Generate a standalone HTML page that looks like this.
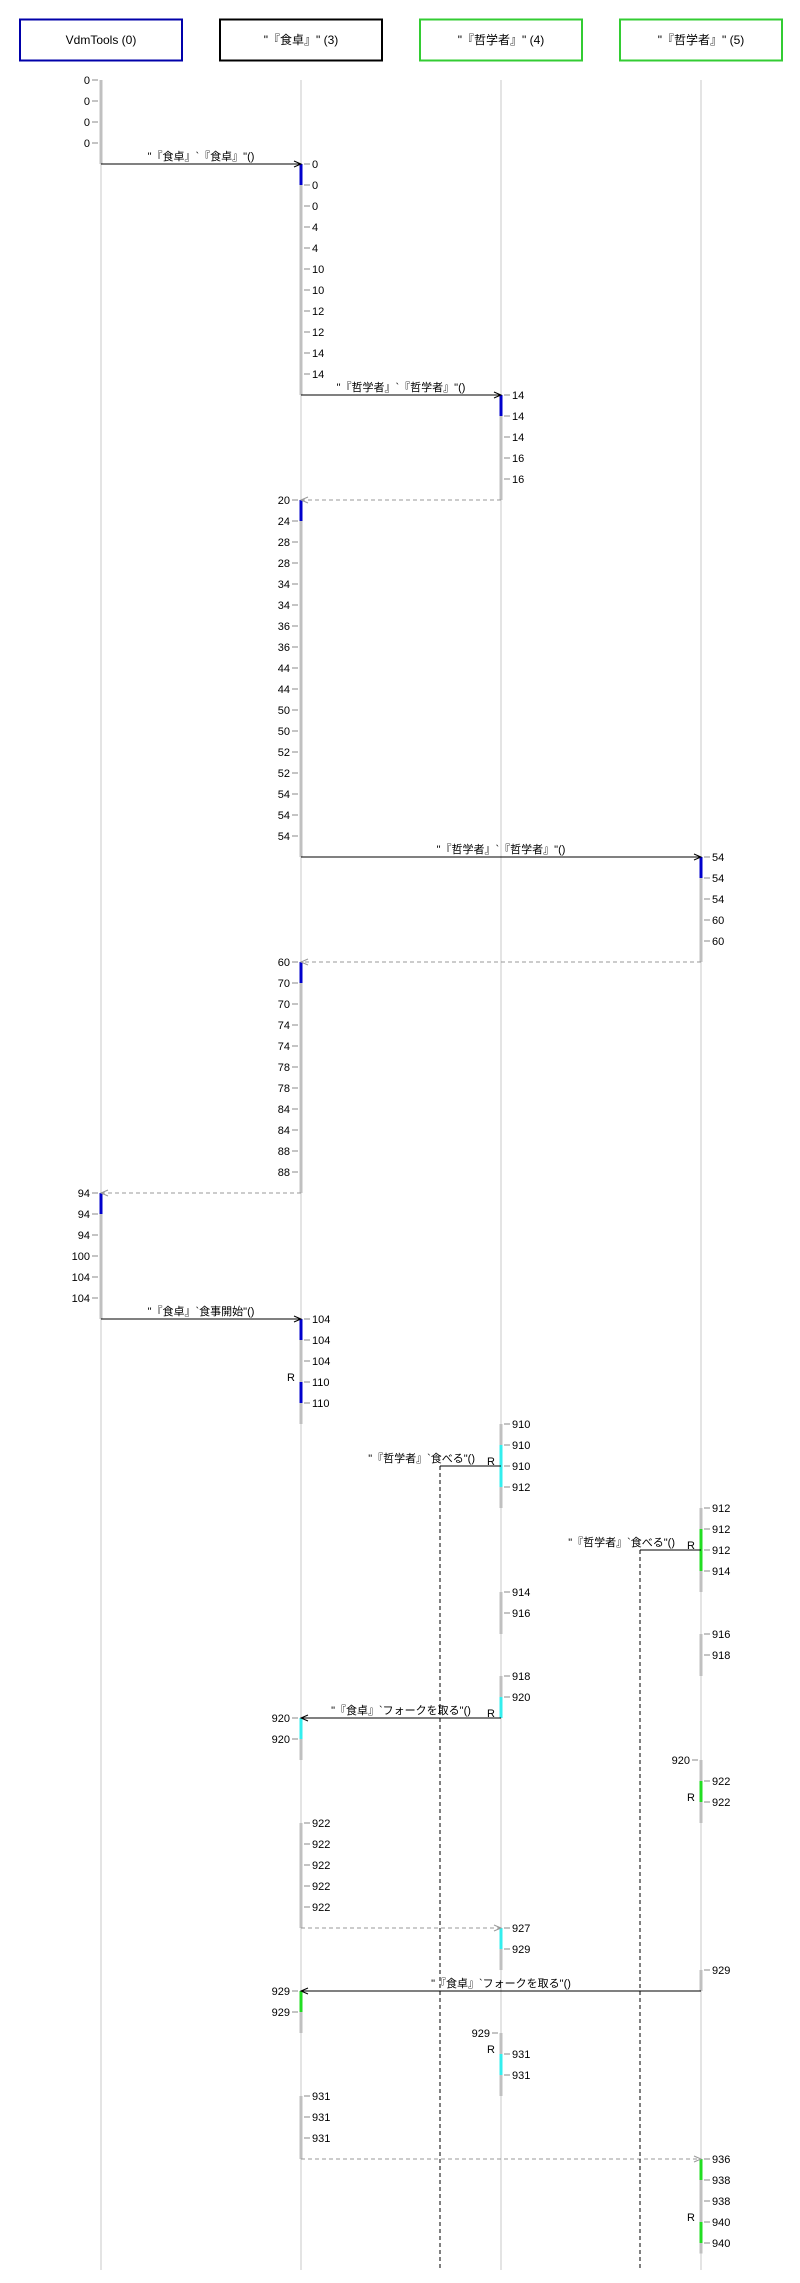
<!DOCTYPE html>
<html><head><meta charset="utf-8">
<style>
html,body{margin:0;padding:0;background:#fff;}
svg{display:block;font-family:"Liberation Sans","Noto Sans CJK JP",sans-serif;}
</style></head>
<body>
<svg id="chart" width="800" height="2283" viewBox="0 0 800 2283" xmlns="http://www.w3.org/2000/svg"></svg>
<script>
// ---- data ----
const participants = ['VdmTools (0)', '"『食卓』" (3)', '"『哲学者』" (4)', '"『哲学者』" (5)'];
const participantColors = ['#0000aa', '#000000', '#33cc33', '#33cc33'];
// ticks: [row, participant, side, label]
const ticks = [
[0,0,'L','0'],[1,0,'L','0'],[2,0,'L','0'],[3,0,'L','0'],
[4,1,'R','0'],[5,1,'R','0'],[6,1,'R','0'],[7,1,'R','4'],[8,1,'R','4'],[9,1,'R','10'],[10,1,'R','10'],[11,1,'R','12'],[12,1,'R','12'],[13,1,'R','14'],[14,1,'R','14'],
[15,2,'R','14'],[16,2,'R','14'],[17,2,'R','14'],[18,2,'R','16'],[19,2,'R','16'],
[20,1,'L','20'],[21,1,'L','24'],[22,1,'L','28'],[23,1,'L','28'],[24,1,'L','34'],[25,1,'L','34'],[26,1,'L','36'],[27,1,'L','36'],[28,1,'L','44'],[29,1,'L','44'],[30,1,'L','50'],[31,1,'L','50'],[32,1,'L','52'],[33,1,'L','52'],[34,1,'L','54'],[35,1,'L','54'],[36,1,'L','54'],
[37,3,'R','54'],[38,3,'R','54'],[39,3,'R','54'],[40,3,'R','60'],[41,3,'R','60'],
[42,1,'L','60'],[43,1,'L','70'],[44,1,'L','70'],[45,1,'L','74'],[46,1,'L','74'],[47,1,'L','78'],[48,1,'L','78'],[49,1,'L','84'],[50,1,'L','84'],[51,1,'L','88'],[52,1,'L','88'],
[53,0,'L','94'],[54,0,'L','94'],[55,0,'L','94'],[56,0,'L','100'],[57,0,'L','104'],[58,0,'L','104'],
[59,1,'R','104'],[60,1,'R','104'],[61,1,'R','104'],[62,1,'R','110'],[63,1,'R','110'],
[64,2,'R','910'],[65,2,'R','910'],[66,2,'R','910'],[67,2,'R','912'],
[68,3,'R','912'],[69,3,'R','912'],[70,3,'R','912'],[71,3,'R','914'],
[72,2,'R','914'],[73,2,'R','916'],
[74,3,'R','916'],[75,3,'R','918'],
[76,2,'R','918'],[77,2,'R','920'],
[78,1,'L','920'],[79,1,'L','920'],
[80,3,'L','920'],[81,3,'R','922'],[82,3,'R','922'],
[83,1,'R','922'],[84,1,'R','922'],[85,1,'R','922'],[86,1,'R','922'],[87,1,'R','922'],
[88,2,'R','927'],[89,2,'R','929'],
[90,3,'R','929'],
[91,1,'L','929'],[92,1,'L','929'],
[93,2,'L','929'],[94,2,'R','931'],[95,2,'R','931'],
[96,1,'R','931'],[97,1,'R','931'],[98,1,'R','931'],
[99,3,'R','936'],[100,3,'R','938'],[101,3,'R','938'],[102,3,'R','940'],[103,3,'R','940']
];
// gray activation bars: [participant, startRow, endRow]
const grayBars = [[0,0,4],[0,53,59],[1,4,15],[1,20,37],[1,42,53],[1,59,64],[1,78,80],[1,83,88],[1,91,93],[1,96,99],
[2,15,20],[2,64,68],[2,72,74],[2,76,78],[2,88,90],[2,93,96],
[3,37,42],[3,68,72],[3,74,76],[3,80,83],[3,90,91],[3,99,103.5]];
// coloured activation segments: [participant, startRow, endRow, color]
const colorBars = [[0,53,54,'#0000cc'],[1,4,5,'#0000cc'],[1,20,21,'#0000cc'],[1,42,43,'#0000cc'],[1,59,60,'#0000cc'],[1,62,63,'#0000cc'],
[2,15,16,'#0000cc'],[3,37,38,'#0000cc'],
[2,65,67,'#33eeee'],[2,77,78,'#33eeee'],[1,78,79,'#33eeee'],[2,88,89,'#33eeee'],[2,94,95,'#33eeee'],
[3,69,71,'#22dd22'],[3,81,82,'#22dd22'],[1,91,92,'#22dd22'],[3,99,100,'#22dd22'],[3,102,103,'#22dd22']];
// messages: [row, from, to, label, dashed]
const messages = [
[4,0,1,'"『食卓』`『食卓』"()',false],
[15,1,2,'"『哲学者』`『哲学者』"()',false],
[20,2,1,'',true],
[37,1,3,'"『哲学者』`『哲学者』"()',false],
[42,3,1,'',true],
[53,1,0,'',true],
[59,0,1,'"『食卓』`食事開始"()',false],
[78,2,1,'"『食卓』`フォークを取る"()',false],
[88,1,2,'',true],
[91,3,1,'"『食卓』`フォークを取る"()',false],
[99,1,3,'',true]
];
// async calls: [row, participant, label]
const asyncCalls = [[66,2,'"『哲学者』`食べる"()'],[70,3,'"『哲学者』`食べる"()']];
const rMarks = [[62,1],[66,2],[70,3],[78,2],[82,3],[94,2],[102,3]];

// ---- axes ----
const X = i => 101 + 200*i;
const Y = r => 80 + 21.0*r;
const svg = document.getElementById('chart');
const NS = 'http://www.w3.org/2000/svg';
function mk(tag, attrs, txt){const e=document.createElementNS(NS,tag);for(const k in attrs)e.setAttribute(k,attrs[k]);if(txt!==undefined)e.textContent=txt;svg.appendChild(e);return e;}

participants.forEach((p,i)=>{
  const b=mk('rect',{x:X(i)-81,y:19.5,width:162,height:41,fill:'#fff',stroke:participantColors[i],'stroke-width':2});
  
  
  const t=mk('text',{x:X(i),y:44,'font-size':12,'text-anchor':'middle',fill:'#000'},p);
  
  
  const l=mk('line',{x1:X(i),y1:80,x2:X(i),y2:2270,stroke:'#c8c8c8','stroke-width':1});
  
  
});
grayBars.forEach(g=>{
  const r=mk('rect',{x:X(g[0])-1.5,y:Y(g[1]),width:3,height:Y(g[2])-Y(g[1]),fill:'#c0c0c0'});
  
  
});
colorBars.forEach(g=>{
  const r=mk('rect',{x:X(g[0])-1.5,y:Y(g[1]),width:3,height:Y(g[2])-Y(g[1]),fill:g[3]});
  
  
});
ticks.forEach(t=>{
  const x=X(t[1]), y=Y(t[0]);
  const s=t[2]==='R'?1:-1;
  const l=mk('line',{x1:x+3*s,y1:y,x2:x+9*s,y2:y,stroke:'#888','stroke-width':1});
  
  
  const tx=mk('text',{x:x+11*s,y:y+4,'font-size':11,'text-anchor':s>0?'start':'end',fill:'#000'},t[3]);
  
  
});
messages.forEach(m=>{
  const y=Y(m[0]), x1=X(m[1]), x2=X(m[2]);
  const l=mk('line',{x1:x1,y1:y,x2:x2,y2:y,stroke:m[4]?'#999':'#000','stroke-width':1,'stroke-dasharray':m[4]?'4,3':'none'});
  
  
  const d=x2>x1?-1:1;
  const a=mk('polyline',{points:`${x2+7*d},${y-3} ${x2},${y} ${x2+7*d},${y+3}`,fill:'none',stroke:m[4]?'#999':'#000','stroke-width':1});
  
  
  if(m[3]){
    const t=mk('text',{x:(x1+x2)/2,y:y-4,'font-size':11,'text-anchor':'middle',fill:'#000'},m[3]);
    
    
  }
});
asyncCalls.forEach(c=>{
  const y=Y(c[0]), x=X(c[1]), xd=x-61;
  const l=mk('line',{x1:x,y1:y,x2:xd,y2:y,stroke:'#000','stroke-width':1});
  
  
  const v=mk('line',{x1:xd,y1:y,x2:xd,y2:2270,stroke:'#000','stroke-width':1,'stroke-dasharray':'4,3'});
  
  
  const t=mk('text',{x:x-26,y:y-4,'font-size':11,'text-anchor':'end',fill:'#000'},c[2]);
  
  
});
rMarks.forEach(r=>{
  const t=mk('text',{x:X(r[1])-6,y:Y(r[0])-1,'font-size':11,'text-anchor':'end',fill:'#000'},'R');
  
  
});
</script>
</body></html>
